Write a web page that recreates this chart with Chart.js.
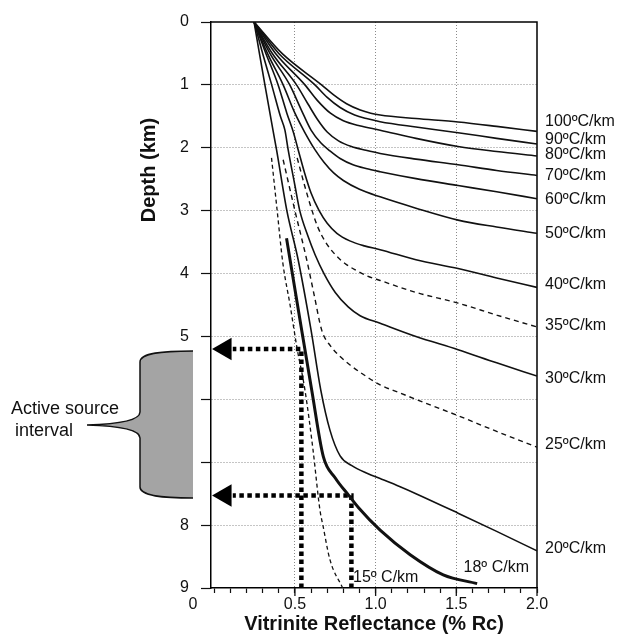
<!DOCTYPE html>
<html><head><meta charset="utf-8">
<script src="https://cdn.jsdelivr.net/npm/chart.js@4.4.0/dist/chart.umd.min.js"></script>
<style>html,body{margin:0;padding:0;background:#fff;}#wrap{width:621px;height:634px;}</style>
</head><body><div id="wrap"><canvas id="c" width="621" height="634"></canvas></div>
<script>
// ---- Data (Ro % vs depth km) ----
const RO_100 = [0.247,0.42,0.665,0.74,0.82,0.905,0.97,1.028,1.25,1.511,1.75,2.0];
const Z_100  = [0,0.5,1.0,1.16,1.30,1.40,1.45,1.48,1.535,1.59,1.66,1.74];
const RO_90  = [0.247,0.40,0.624,0.70,0.78,0.87,0.95,1.028,1.25,1.511,1.75,2.0];
const Z_90   = [0,0.5,1.0,1.2,1.36,1.48,1.54,1.585,1.67,1.76,1.85,1.94];
const RO_80  = [0.247,0.38,0.562,0.64,0.72,0.80,0.90,1.028,1.25,1.511,1.75,2.0];
const Z_80   = [0,0.5,1.0,1.25,1.45,1.57,1.65,1.72,1.85,1.98,2.06,2.13];
const RO_70  = [0.247,0.36,0.51,0.58,0.64,0.70,0.77,0.85,0.94,1.028,1.25,1.511,1.75,2.0];
const Z_70   = [0,0.5,1.0,1.3,1.55,1.75,1.89,1.98,2.04,2.09,2.18,2.27,2.36,2.44];
const RO_60  = [0.247,0.345,0.468,0.54,0.60,0.66,0.717,0.78,0.86,0.94,1.028,1.25,1.511,1.75,2.0];
const Z_60   = [0,0.5,1.0,1.4,1.72,1.92,2.05,2.17,2.27,2.33,2.38,2.49,2.60,2.70,2.81];
const RO_50  = [0.247,0.33,0.427,0.50,0.56,0.624,0.68,0.74,0.80,0.90,1.028,1.25,1.511,1.75,2.0];
const Z_50   = [0,0.5,1.0,1.45,1.75,2.03,2.23,2.40,2.52,2.66,2.78,2.96,3.15,3.26,3.36];
const RO_40  = [0.247,0.32,0.396,0.45,0.49,0.52,0.56,0.60,0.65,0.70,0.76,0.84,0.93,1.028,1.25,1.511,1.75,2.0];
const Z_40   = [0,0.5,1.0,1.45,1.75,2.03,2.4,2.72,3.0,3.2,3.36,3.48,3.56,3.62,3.78,3.92,4.07,4.22];
const RO_35  = [0.514,0.56,0.60,0.64,0.69,0.75,0.81,0.88,0.95,1.028,1.25,1.511,1.75,2.0];
const Z_35   = [2.16,2.6,2.95,3.25,3.5,3.7,3.84,3.95,4.04,4.11,4.3,4.47,4.66,4.85];
const RO_30  = [0.247,0.30,0.356,0.41,0.438,0.458,0.50,0.53,0.58,0.625,0.68,0.75,0.83,0.904,1.028,1.25,1.511,1.75,2.0];
const Z_30   = [0,0.5,1.0,1.5,1.72,2.03,2.6,3.0,3.4,3.7,4.0,4.3,4.53,4.67,4.79,5.0,5.21,5.42,5.63];
const RO_25  = [0.427,0.50,0.573,0.62,0.666,0.72,0.78,0.85,0.904,1.028,1.152,1.25,1.511,1.75,2.0];
const Z_25   = [2.19,3.0,3.78,4.35,4.90,5.15,5.32,5.47,5.57,5.77,5.90,6.0,6.26,6.51,6.76];
const RO_20  = [0.247,0.28,0.314,0.364,0.386,0.45,0.52,0.60,0.66,0.717,0.78,0.85,0.95,1.028,1.152,1.25,1.511,1.75,2.0];
const Z_20   = [0,0.5,1.0,1.72,2.03,3.0,3.78,4.9,5.85,6.49,6.90,7.05,7.18,7.26,7.39,7.5,7.81,8.1,8.41];
const RO_18  = [0.448,0.542,0.604,0.676,0.75,0.831,0.893,1.028,1.214,1.419,1.629];
const Z_18   = [3.44,4.90,5.85,6.91,7.25,7.52,7.72,8.08,8.47,8.79,8.93];
const RO_15  = [0.355,0.39,0.425,0.47,0.512,0.562,0.612,0.655,0.674,0.717,0.796];
const Z_15   = [2.16,3.0,3.83,4.5,5.17,5.85,6.80,7.76,8.01,8.55,9.0];

const RIGHT_LABELS = ['100ºC/km','90ºC/km','80ºC/km','70ºC/km','60ºC/km','50ºC/km','40ºC/km','35ºC/km','30ºC/km','25ºC/km','20ºC/km'];
const RIGHT_LABEL_DEPTHS = [1.585,1.865,2.115,2.445,2.82,3.36,4.18,4.82,5.665,6.725,8.37];
const INLINE_LABELS = ['15º C/km','18º C/km'];
const INLINE_LABEL_RO = [0.86,1.545];
const INLINE_LABEL_DEPTHS = [8.84,8.68];

const ARROW_DEPTHS = [5.2, 7.53];
const ARROW_RO = [0.54, 0.85];
const ARROW_END_RO = 0.115;
const ARROW_HEAD_RO = 0.067;

const SOURCE_TOP = 5.23, SOURCE_MID = 6.41, SOURCE_BOTTOM = 7.57;

const X_TICK_VALUES = [0,0.1,0.2,0.3,0.4,0.5,0.6,0.7,0.8,0.9,1.0,1.1,1.2,1.3,1.4,1.5,1.6,1.7,1.8,1.9,2.0];
const X_TICK_TEXT   = ['','','','','','0.5','','','','','1.0','','','','','1.5','','','','','2.0'];
const X_GRID        = [0.5,1.0,1.5];
const X_MAJOR       = [0.5,1.0,1.5,2.0];
const Y_TICK_VALUES = [0,1,2,3,4,5,6,7,8,9];
const Y_TICK_TEXT   = ['0','1','2','3','4','5','','','8','9'];

const FONT = "'Liberation Sans', Arial, sans-serif";
Chart.defaults.font.family = FONT;
Chart.defaults.color = '#111';

function pts(xs, ys){ return xs.map((x,i)=>({x:x, y:ys[i]})); }
function curve(xs, ys, opts){
  return Object.assign({data: pts(xs,ys), showLine:true, pointRadius:0, borderColor:'#111', borderWidth:1.6,
    cubicInterpolationMode:'monotone', fill:false}, opts||{});
}
const datasets = [
  curve(RO_100, Z_100), curve(RO_90, Z_90), curve(RO_80, Z_80), curve(RO_70, Z_70),
  curve(RO_60, Z_60), curve(RO_50, Z_50), curve(RO_40, Z_40),
  curve(RO_35, Z_35, {borderDash:[5,4], borderWidth:1.4}),
  curve(RO_30, Z_30),
  curve(RO_25, Z_25, {borderDash:[5,4], borderWidth:1.4}),
  curve(RO_20, Z_20),
  curve(RO_18, Z_18, {borderWidth:3}),
  curve(RO_15, Z_15, {borderDash:[4,3], borderWidth:1.3}),
];
ARROW_DEPTHS.forEach((d,i)=>{
  datasets.push({data:[{x:ARROW_RO[i],y:9},{x:ARROW_RO[i],y:d},{x:ARROW_END_RO,y:d}], showLine:true, pointRadius:0,
    borderColor:'#000', borderWidth:4.5, borderDash:[4.5,3.5], tension:0, borderCapStyle:'butt', clip:false});
  datasets.push({data:[{x:ARROW_HEAD_RO,y:d}], showLine:false, pointStyle:'triangle', rotation:-90, pointRadius:13,
    pointBackgroundColor:'#000', pointBorderColor:'#000', pointBorderWidth:0, clip:false});
});

const decor = {
  id:'decor',
  beforeDatasetsDraw(chart){
    const {ctx, chartArea:a, scales:{x}} = chart;
    ctx.save();
    ctx.strokeStyle='#000'; ctx.lineWidth=1.5;
    ctx.beginPath(); ctx.moveTo(a.left, a.top); ctx.lineTo(a.right, a.top); ctx.lineTo(a.right, a.bottom); ctx.stroke();
    // longer major tick marks on x axis
    ctx.lineWidth=1.3; ctx.strokeStyle='#111';
    X_MAJOR.forEach(v=>{ const px=x.getPixelForValue(v); ctx.beginPath(); ctx.moveTo(px, a.bottom); ctx.lineTo(px, a.bottom+8); ctx.stroke(); });
    ctx.restore();
  },
  afterDraw(chart){
    const {ctx, chartArea:a, scales:{x, y}} = chart;
    ctx.save();
    ctx.fillStyle='#111'; ctx.font = '16px ' + FONT; ctx.textBaseline='middle'; ctx.textAlign='left';
    RIGHT_LABELS.forEach((t,i)=> ctx.fillText(t, a.right+8, y.getPixelForValue(RIGHT_LABEL_DEPTHS[i])));
    INLINE_LABELS.forEach((t,i)=> ctx.fillText(t, x.getPixelForValue(INLINE_LABEL_RO[i]), y.getPixelForValue(INLINE_LABEL_DEPTHS[i])));
    ctx.textAlign='center';
    ctx.fillText('0', a.left-18, a.bottom+17);
    ctx.save();
    ctx.translate(149, 170); ctx.rotate(-Math.PI/2);
    ctx.font = 'bold 20px ' + FONT; ctx.textAlign='center'; ctx.fillText('Depth (km)', 0, 0);
    ctx.restore();
    const xR = a.left - 18, xL = xR - 53, xP = xR - 106;
    const yT = y.getPixelForValue(SOURCE_TOP), yM = y.getPixelForValue(SOURCE_MID), yB = y.getPixelForValue(SOURCE_BOTTOM);
    const path = () => {
      ctx.beginPath();
      ctx.moveTo(xR, yT);
      ctx.bezierCurveTo(xR-30, yT, xL, yT+2, xL, yT+11);
      ctx.lineTo(xL, yM-13);
      ctx.bezierCurveTo(xL, yM-4, xL-25, yM-0.8, xP, yM);
      ctx.bezierCurveTo(xL-25, yM+0.8, xL, yM+4, xL, yM+13);
      ctx.lineTo(xL, yB-11);
      ctx.bezierCurveTo(xL, yB-2, xR-30, yB, xR, yB);
    };
    path(); ctx.closePath(); ctx.fillStyle='#a4a4a4'; ctx.fill();
    path(); ctx.strokeStyle='#111'; ctx.lineWidth=1.5; ctx.stroke();
    ctx.fillStyle='#111'; ctx.font='18px ' + FONT; ctx.textAlign='left'; ctx.textBaseline='middle';
    ctx.fillText('Active source', 11, yM-16);
    ctx.fillText('interval', 15, yM+6);
    ctx.restore();
  }
};

new Chart(document.getElementById('c'), {
  type:'scatter',
  data:{datasets},
  plugins:[decor],
  options:{
    responsive:false, animation:false, devicePixelRatio:1,
    layout:{padding:{top:22, right:84, left:0, bottom:0}},
    plugins:{legend:{display:false}, tooltip:{enabled:false}},
    scales:{
      x:{type:'linear', min:-0.02, max:2.0,
        afterBuildTicks: s => { s.ticks = X_TICK_VALUES.map(v=>({value:v})); },
        afterFit: s => { s.height = 46; },
        ticks:{autoSkip:false, maxRotation:0, padding:2, font:{size:16}, color:'#111',
          callback:(v,i)=> X_TICK_TEXT[i]},
        grid:{color: c => (c.tick && X_GRID.some(g=>Math.abs(g-c.tick.value)<1e-6)) ? '#8a8a8a' : 'rgba(0,0,0,0)',
          tickColor:'#111', tickLength:5, lineWidth:1, tickWidth:1.2},
        border:{display:true, color:'#000', width:1.5, dash:[1,2]},
        title:{display:true, text:'Vitrinite Reflectance (% Rc)', font:{size:20, weight:'bold', lineHeight:1}, padding:{top:0,bottom:0}, color:'#111'}
      },
      y:{type:'linear', min:0, max:9, reverse:true,
        afterBuildTicks: s => { s.ticks = Y_TICK_VALUES.map(v=>({value:v})); },
        afterFit: s => { s.width = 211; },
        ticks:{autoSkip:false, padding:12, font:{size:16}, color:'#111', callback:(v,i)=> Y_TICK_TEXT[i]},
        grid:{color: c => (c.tick && c.tick.value>0 && c.tick.value<9) ? '#8a8a8a' : 'rgba(0,0,0,0)',
          tickColor:'#111', tickLength:10, lineWidth:1, tickWidth:1.2},
        border:{display:true, color:'#000', width:1.5, dash:[1,2]}
      }
    }
  }
});
</script></body></html>
